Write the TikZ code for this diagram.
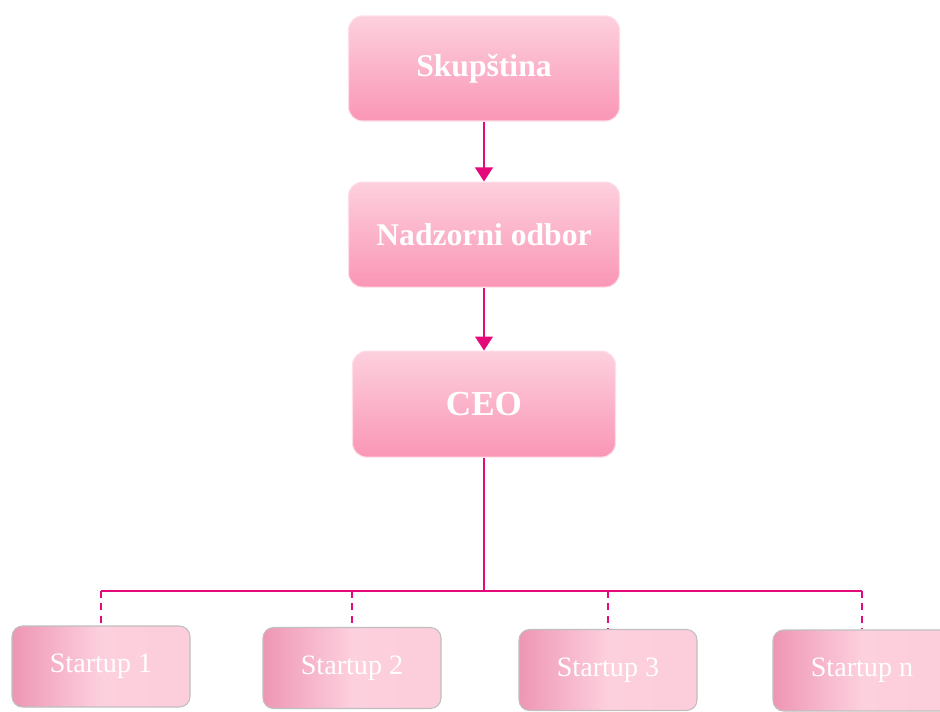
\documentclass[tikz,border=0pt]{standalone}
\usepackage{fontspec}
\setmainfont{Liberation Serif}
\usetikzlibrary{positioning,arrows.meta}
\definecolor{linkpink}{RGB}{228,10,122}
\definecolor{pinklight}{RGB}{253,208,222}
\definecolor{pinkdark}{RGB}{250,150,182}
\definecolor{startleft}{RGB}{238,150,180}
\definecolor{startright}{RGB}{252,205,218}

\begin{document}
\begin{tikzpicture}[
    topbox/.style = {rounded corners=8pt, draw=pinklight!70!white, line width=0.6pt,
        top color=pinklight, bottom color=pinkdark, minimum width=5.42cm,
        minimum height=2.1cm, text=white, font=\bfseries\fontsize{18}{21}\selectfont},
    startbox/.style = {rounded corners=6pt, draw=black!25, line width=0.6pt,
        left color=startleft, right color=startright, middle color=pinklight,
        minimum width=3.56cm, minimum height=1.62cm, text=white,
        font=\fontsize{16}{19}\selectfont},
    link/.style = {draw=linkpink, line width=1.3pt},
    drop/.style = {link, dashed, dash pattern=on 4pt off 3pt},
    node distance=1.2cm]
     \useasboundingbox (0,0) rectangle (18.8,-14.22);
     \node[topbox] (skup) at (9.68,-1.37) {Skupština};
     \node[topbox] (nadzor) [below=of skup] {Nadzorni odbor};
     \node[topbox, minimum width=5.26cm, minimum height=2.12cm,
        font=\bfseries\fontsize{20}{24}\selectfont] (ceo) [below=1.26cm of nadzor] {CEO};
     \node[startbox] (s1) at (2.02,-13.33) {Startup 1};
     \node[startbox] (s2) at (7.04,-13.36) {Startup 2};
     \node[startbox] (s3) at (12.16,-13.40) {Startup 3};
     \node[startbox] (sn) at (17.24,-13.41) {Startup n};
     \coordinate (bus) at (ceo |- 0,-11.82);
     \draw[link, -{Triangle[width=10pt,length=8pt]}] (skup) -- (nadzor);
     \draw[link, -{Triangle[width=10pt,length=8pt]}] (nadzor) -- (ceo);
     \draw[link] (ceo.south) -- (bus);
     \draw[link] (s1 |- bus) -- (sn |- bus);
     \draw[drop] (s1 |- bus) -- (s1.north);
     \draw[drop] (s2 |- bus) -- (s2.north);
     \draw[drop] (s3 |- bus) -- (s3.north);
     \draw[drop] (sn |- bus) -- (sn.north);
\end{tikzpicture}
\end{document}
